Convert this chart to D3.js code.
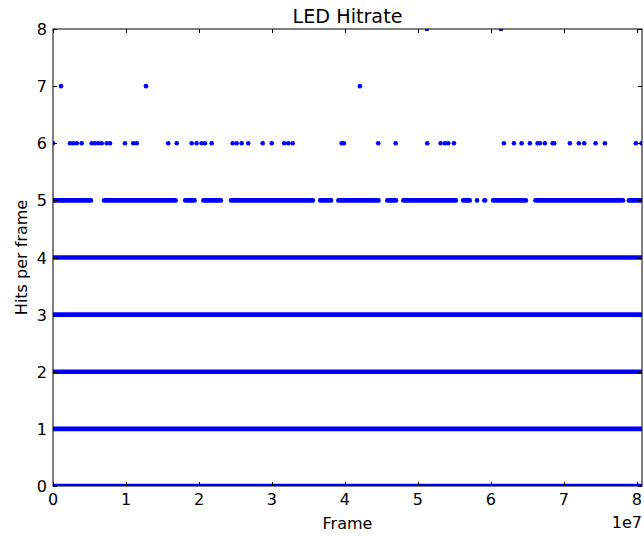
<!DOCTYPE html>
<html><head><meta charset="utf-8">
<script src="https://cdn.jsdelivr.net/npm/d3@7"></script>
<style>body{margin:0;background:#fff;} text{font-family:"DejaVu Sans",sans-serif;fill:#000;}</style>
</head><body>
<svg id="chart" width="644" height="536"></svg>
<script>
// Data (frames, hits per frame)
const xMax = 8.07e7;
const xTicks = [0,1e7,2e7,3e7,4e7,5e7,6e7,7e7,8e7];
const yTicks = [0,1,2,3,4,5,6,7,8];
// Dense runs (continuous bands of points) for levels 0-4
const solidLevels = [0,1,2,3,4];
const solidRun = [0, 8.07e7];
// Level 5 dense runs [start, end] in frames
const level5Runs = [
  [0.00e7,0.52e7],[0.70e7,1.68e7],[1.81e7,1.94e7],[2.06e7,2.30e7],
  [2.44e7,3.56e7],[3.66e7,3.81e7],[3.91e7,4.46e7],[4.58e7,4.70e7],
  [4.80e7,5.52e7],[5.62e7,5.71e7],[5.81e7,5.81e7],[5.91e7,5.92e7],
  [6.03e7,6.48e7],[6.61e7,7.81e7],[7.89e7,8.07e7]
];
// Sparse points
const level6 = [0,0.233e7,0.278e7,0.325e7,0.393e7,0.530e7,0.575e7,0.621e7,0.667e7,0.736e7,0.781e7,
  0.986e7,1.100e7,1.147e7,1.579e7,1.695e7,1.900e7,1.968e7,2.037e7,2.082e7,2.174e7,2.462e7,2.516e7,
  2.585e7,2.675e7,2.873e7,2.997e7,3.168e7,3.223e7,3.284e7,3.955e7,3.986e7,4.456e7,4.695e7,5.127e7,
  5.311e7,5.370e7,5.415e7,5.493e7,6.178e7,6.315e7,6.421e7,6.534e7,6.640e7,6.671e7,6.740e7,6.845e7,
  6.867e7,7.082e7,7.205e7,7.279e7,7.434e7,7.562e7,7.986e7,8.064e7];
const level7 = [0.110e7,1.274e7,4.205e7];
const level8 = [5.123e7,6.137e7];

const svg = d3.select("#chart");
const L=53, R=642, T=29, B=486;
const x = d3.scaleLinear().domain([0,xMax]).range([L,R]);
const y = d3.scaleLinear().domain([0,8]).range([B,T]);
const blue = "#0000ff", r = 2.3;

svg.append("defs").append("clipPath").attr("id","clip")
  .append("rect").attr("x",L).attr("y",T).attr("width",R-L).attr("height",B-T);
const plot = svg.append("g").attr("clip-path","url(#clip)");

// dense runs
const runs = solidLevels.map(l=>({lvl:l,a:solidRun[0],b:solidRun[1]}))
  .concat(level5Runs.map(d=>({lvl:5,a:d[0],b:d[1]})));
plot.selectAll("line.run").data(runs).join("line").attr("class","run")
  .attr("x1",d=>x(d.a)).attr("x2",d=>x(d.b)).attr("y1",d=>y(d.lvl)).attr("y2",d=>y(d.lvl))
  .attr("stroke",blue).attr("stroke-width",r*2).attr("stroke-linecap","round");
const pts = level6.map(f=>({f,l:6})).concat(level7.map(f=>({f,l:7}))).concat(level8.map(f=>({f,l:8})));
plot.selectAll("circle").data(pts).join("circle")
  .attr("cx",d=>x(d.f)).attr("cy",d=>y(d.l)).attr("r",r).attr("fill",blue);

// frame
svg.append("rect").attr("x",L).attr("y",T).attr("width",R-L).attr("height",B-T)
  .attr("fill","none").attr("stroke","#000").attr("stroke-width",1);

// ticks
const tl=4;
const ax = svg.append("g");
xTicks.forEach(v=>{
  const px=Math.round(x(v))+0.5;
  ax.append("line").attr("x1",px).attr("x2",px).attr("y1",B).attr("y2",B-tl).attr("stroke","#000");
  ax.append("line").attr("x1",px).attr("x2",px).attr("y1",T).attr("y2",T+tl).attr("stroke","#000");
  ax.append("text").attr("x",x(v)).attr("y",B+19).attr("text-anchor","middle")
    .style("font-size","16px").text(d3.format("d")(v/1e7));
});
yTicks.forEach(v=>{
  const py=Math.round(y(v))+0.5;
  ax.append("line").attr("x1",L).attr("x2",L+tl).attr("y1",py).attr("y2",py).attr("stroke","#000");
  ax.append("line").attr("x1",R).attr("x2",R-tl).attr("y1",py).attr("y2",py).attr("stroke","#000");
  ax.append("text").attr("x",L-6).attr("y",y(v)+6).attr("text-anchor","end")
    .style("font-size","16px").text(v);
});
svg.append("text").attr("x",642).attr("y",528).attr("text-anchor","end").style("font-size","16px").text("1e7");
svg.append("text").attr("x",(L+R)/2).attr("y",529).attr("text-anchor","middle").style("font-size","16px").text("Frame");
svg.append("text").attr("transform",`translate(27,${(T+B)/2}) rotate(-90)`).attr("text-anchor","middle")
  .style("font-size","16px").text("Hits per frame");
svg.append("text").attr("x",(L+R)/2).attr("y",23).attr("text-anchor","middle").style("font-size","19.2px").text("LED Hitrate");
</script>
</body></html>
